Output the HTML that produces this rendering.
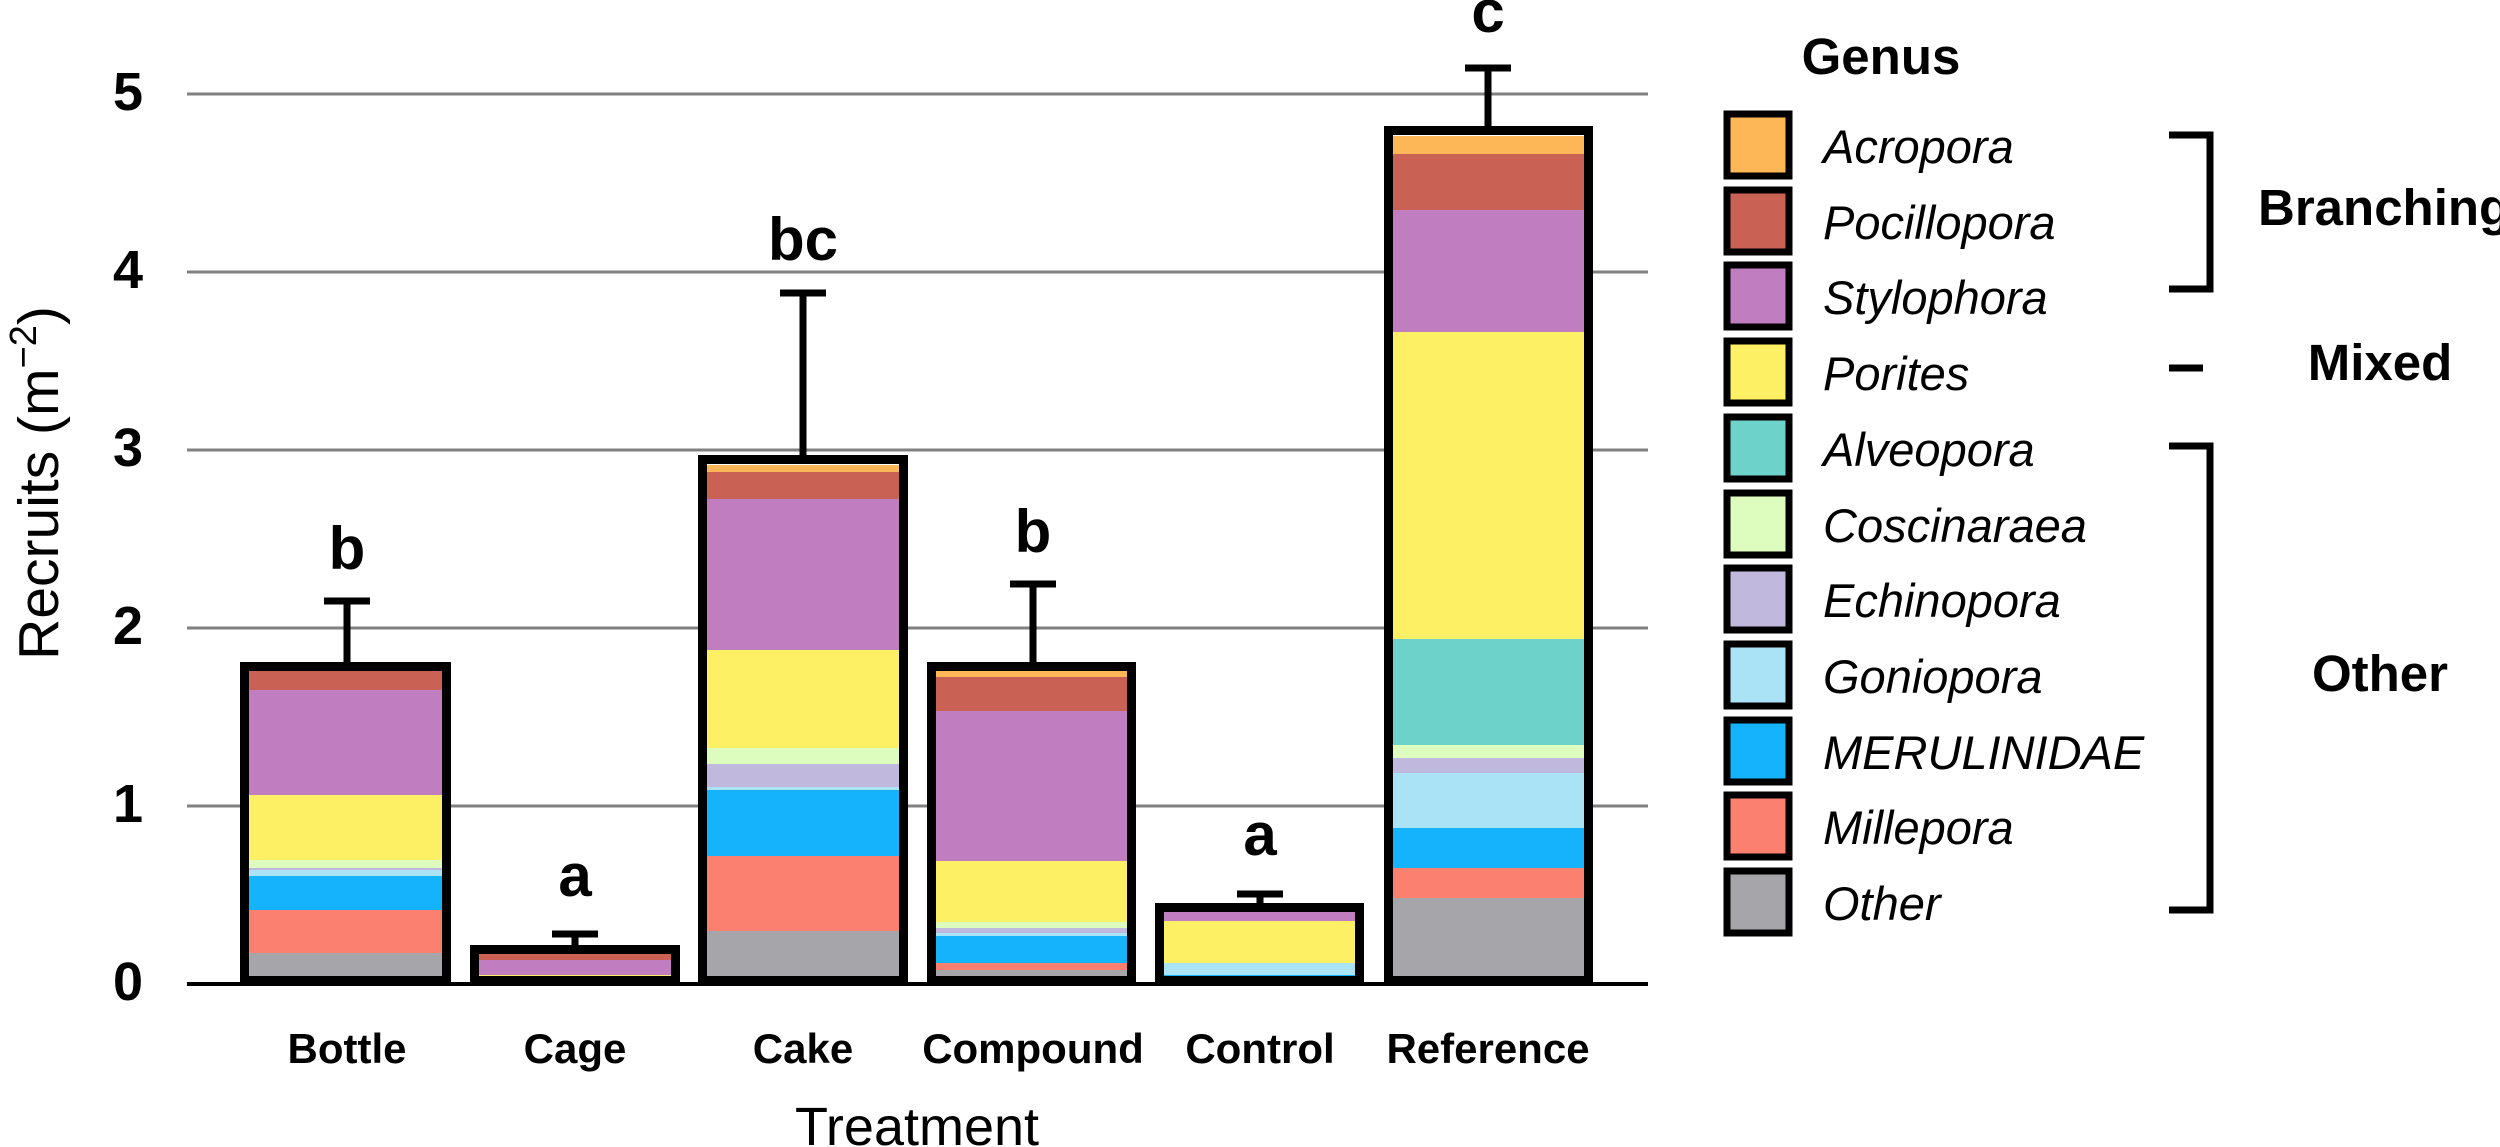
<!DOCTYPE html>
<html><head><meta charset="utf-8"><style>
html,body{margin:0;padding:0;background:#fff;}
svg{display:block;}
text{font-family:"Liberation Sans",Arial,sans-serif;}
</style></head><body>
<svg width="2500" height="1147" viewBox="0 0 2500 1147" xmlns="http://www.w3.org/2000/svg">
<g stroke="#808080" stroke-width="3">
<line x1="187" y1="94" x2="1648" y2="94"/>
<line x1="187" y1="272" x2="1648" y2="272"/>
<line x1="187" y1="450" x2="1648" y2="450"/>
<line x1="187" y1="628" x2="1648" y2="628"/>
<line x1="187" y1="806" x2="1648" y2="806"/>
</g>
<line x1="187" y1="984" x2="1648" y2="984" stroke="#000" stroke-width="4"/>
<g font-size="54" font-weight="bold" text-anchor="middle" fill="#000">
<text x="128" y="1000">0</text>
<text x="128" y="822">1</text>
<text x="128" y="644">2</text>
<text x="128" y="466">3</text>
<text x="128" y="288">4</text>
<text x="128" y="110">5</text>
</g>
<text transform="translate(58,483) rotate(-90)" font-size="57" text-anchor="middle">Recruits (m<tspan dy="-22" font-size="38">−2</tspan><tspan dy="22">)</tspan></text>

<g>
<rect x="249" y="953" width="193" height="26" fill="#A6A5AA"/>
<rect x="249" y="910" width="193" height="43" fill="#FB8070"/>
<rect x="249" y="876" width="193" height="34" fill="#15B3FB"/>
<rect x="249" y="870" width="193" height="6" fill="#ABE3F6"/>
<rect x="249" y="868" width="193" height="2" fill="#C0B9DD"/>
<rect x="249" y="860" width="193" height="8" fill="#DDFDBE"/>
<rect x="249" y="795" width="193" height="65" fill="#FDF064"/>
<rect x="249" y="690" width="193" height="105" fill="#C07EC0"/>
<rect x="249" y="671" width="193" height="19" fill="#C96155"/>
<rect x="249" y="668" width="193" height="3" fill="#FDB757"/>
<rect x="244.5" y="666.5" width="202" height="314" fill="none" stroke="#000" stroke-width="9"/>
</g>
<g>
<rect x="479" y="975" width="192" height="4" fill="#FDF064"/>
<rect x="479" y="960" width="192" height="15" fill="#C07EC0"/>
<rect x="479" y="953" width="192" height="7" fill="#C96155"/>
<rect x="474.5" y="949.5" width="201" height="31" fill="none" stroke="#000" stroke-width="9"/>
</g>
<g>
<rect x="707" y="931" width="192" height="48" fill="#A6A5AA"/>
<rect x="707" y="856" width="192" height="75" fill="#FB8070"/>
<rect x="707" y="790" width="192" height="66" fill="#15B3FB"/>
<rect x="707" y="787" width="192" height="3" fill="#ABE3F6"/>
<rect x="707" y="764" width="192" height="23" fill="#C0B9DD"/>
<rect x="707" y="748" width="192" height="16" fill="#DDFDBE"/>
<rect x="707" y="650" width="192" height="98" fill="#FDF064"/>
<rect x="707" y="499" width="192" height="151" fill="#C07EC0"/>
<rect x="707" y="472" width="192" height="27" fill="#C96155"/>
<rect x="707" y="465" width="192" height="7" fill="#FDB757"/>
<rect x="702.5" y="459.5" width="201" height="521" fill="none" stroke="#000" stroke-width="9"/>
</g>
<g>
<rect x="936" y="970" width="191" height="9" fill="#A6A5AA"/>
<rect x="936" y="963" width="191" height="7" fill="#FB8070"/>
<rect x="936" y="936" width="191" height="27" fill="#15B3FB"/>
<rect x="936" y="933" width="191" height="3" fill="#ABE3F6"/>
<rect x="936" y="928" width="191" height="5" fill="#C0B9DD"/>
<rect x="936" y="922" width="191" height="6" fill="#DDFDBE"/>
<rect x="936" y="861" width="191" height="61" fill="#FDF064"/>
<rect x="936" y="711" width="191" height="150" fill="#C07EC0"/>
<rect x="936" y="677" width="191" height="34" fill="#C96155"/>
<rect x="936" y="671" width="191" height="6" fill="#FDB757"/>
<rect x="931.5" y="666.5" width="200" height="314" fill="none" stroke="#000" stroke-width="9"/>
</g>
<g>
<rect x="1164" y="975" width="191" height="4" fill="#15B3FB"/>
<rect x="1164" y="963" width="191" height="12" fill="#ABE3F6"/>
<rect x="1164" y="921" width="191" height="42" fill="#FDF064"/>
<rect x="1164" y="912" width="191" height="9" fill="#C07EC0"/>
<rect x="1159.5" y="907.5" width="200" height="73" fill="none" stroke="#000" stroke-width="9"/>
</g>
<g>
<rect x="1393" y="898" width="191" height="81" fill="#A6A5AA"/>
<rect x="1393" y="868" width="191" height="30" fill="#FB8070"/>
<rect x="1393" y="828" width="191" height="40" fill="#15B3FB"/>
<rect x="1393" y="773" width="191" height="55" fill="#ABE3F6"/>
<rect x="1393" y="758" width="191" height="15" fill="#C0B9DD"/>
<rect x="1393" y="745" width="191" height="13" fill="#DDFDBE"/>
<rect x="1393" y="639" width="191" height="106" fill="#6DD3CA"/>
<rect x="1393" y="332" width="191" height="307" fill="#FDF064"/>
<rect x="1393" y="210" width="191" height="122" fill="#C07EC0"/>
<rect x="1393" y="154" width="191" height="56" fill="#C96155"/>
<rect x="1393" y="136" width="191" height="18" fill="#FDB757"/>
<rect x="1388.5" y="130.5" width="200" height="850" fill="none" stroke="#000" stroke-width="9"/>
</g>
<g stroke="#000" stroke-width="7" fill="none">
<path d="M347 662 V601 M324 601 H370"/>
<path d="M575 945 V934 M552 934 H598"/>
<path d="M803 455 V293 M780 293 H826"/>
<path d="M1033 662 V584 M1010 584 H1056"/>
<path d="M1260 903 V894 M1237 894 H1283"/>
<path d="M1488 126 V68 M1465 68 H1511"/>
</g>
<g font-size="60" font-weight="bold" text-anchor="middle">
<text x="347" y="569">b</text>
<text x="575" y="896">a</text>
<text x="803" y="260">bc</text>
<text x="1033" y="552">b</text>
<text x="1260" y="855">a</text>
<text x="1488" y="32">c</text>
</g>
<g font-size="42" font-weight="bold" text-anchor="middle">
<text x="347" y="1063">Bottle</text>
<text x="575" y="1063">Cage</text>
<text x="803" y="1063">Cake</text>
<text x="1033" y="1063">Compound</text>
<text x="1260" y="1063">Control</text>
<text x="1488" y="1063">Reference</text>
</g>
<text x="917" y="1145" font-size="54" text-anchor="middle">Treatment</text>

<text x="1881" y="74" font-size="51" font-weight="bold" text-anchor="middle">Genus</text>
<g stroke="#000" stroke-width="7">
<rect x="1727" y="114" width="62" height="62" fill="#FDB757"/>
<rect x="1727" y="190" width="62" height="62" fill="#C96155"/>
<rect x="1727" y="265" width="62" height="62" fill="#C07EC0"/>
<rect x="1727" y="341" width="62" height="62" fill="#FDF064"/>
<rect x="1727" y="417" width="62" height="62" fill="#6DD3CA"/>
<rect x="1727" y="493" width="62" height="62" fill="#DDFDBE"/>
<rect x="1727" y="568" width="62" height="62" fill="#C0B9DD"/>
<rect x="1727" y="644" width="62" height="62" fill="#ABE3F6"/>
<rect x="1727" y="720" width="62" height="62" fill="#15B3FB"/>
<rect x="1727" y="795" width="62" height="62" fill="#FB8070"/>
<rect x="1727" y="871" width="62" height="62" fill="#A6A5AA"/>
</g>
<g font-size="47" font-style="italic">
<text x="1823" y="163">Acropora</text>
<text x="1823" y="239">Pocillopora</text>
<text x="1823" y="314">Stylophora</text>
<text x="1823" y="390">Porites</text>
<text x="1823" y="466">Alveopora</text>
<text x="1823" y="542">Coscinaraea</text>
<text x="1823" y="617">Echinopora</text>
<text x="1823" y="693">Goniopora</text>
<text x="1823" y="769">MERULINIDAE</text>
<text x="1823" y="844">Millepora</text>
<text x="1823" y="920">Other</text>
</g>
<g stroke="#000" stroke-width="7" fill="none">
<path d="M2169 135 H2210 V289 H2169"/>
<path d="M2169 368 H2203"/>
<path d="M2169 446 H2210 V910 H2169"/>
</g>
<g font-size="51" font-weight="bold">
<text x="2258" y="225">Branching</text>
<text x="2380" y="380" text-anchor="middle">Mixed</text>
<text x="2380" y="691" text-anchor="middle">Other</text>
</g>
</svg>
</body></html>
